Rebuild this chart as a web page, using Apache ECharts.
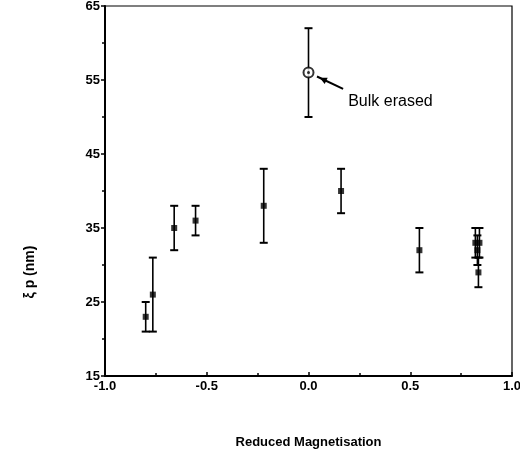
<!DOCTYPE html>
<html>
<head>
<meta charset="utf-8">
<script src="https://cdn.jsdelivr.net/npm/echarts@6/dist/echarts.min.js"></script>
<style>html,body{margin:0;padding:0;background:#fff}#c{width:520px;height:462px}</style>
</head>
<body>
<div id="c"></div>
<script>
// Data (reduced magnetisation, xi_p in nm, error low, error high)
var xVals  = [-0.80, -0.765, -0.66, -0.555, -0.22, 0.00, 0.16, 0.545, 0.82, 0.84, 0.83, 0.835];
var yVals  = [23, 26, 35, 36, 38, 56, 40, 32, 33, 33, 32, 29];
var yLow   = [21, 21, 32, 34, 33, 50, 37, 29, 31, 31, 30, 27];
var yHigh  = [25, 31, 38, 38, 43, 62, 43, 35, 35, 35, 34, 31];
var specialIndex = 5; // bulk erased point
var xTicks = [-1.0, -0.5, 0.0, 0.5, 1.0];
var yTicks = [15, 25, 35, 45, 55, 65];
var annotationText = 'Bulk erased';
var xTitle = 'Reduced Magnetisation';
var yTitle = 'ξ p (nm)';

var font = 'Liberation Sans, Arial, Helvetica, sans-serif';
var pts = [], errs = [], special = [];
for (var i = 0; i < xVals.length; i++) {
  errs.push([xVals[i], yLow[i], yHigh[i]]);
  if (i === specialIndex) special.push([xVals[i], yVals[i]]);
  else pts.push([xVals[i], yVals[i]]);
}

var chart = echarts.init(document.getElementById('c'), null, {renderer: 'canvas'});
var option = {
  animation: false,
  backgroundColor: '#fff',
  grid: {left: 105, right: 8, top: 6, bottom: 86, containLabel: false, outerBoundsMode: 'none',
    show: true, borderColor: '#000', borderWidth: 1.2},
  xAxis: {
    type: 'value', min: xTicks[0], max: xTicks[xTicks.length - 1], interval: 0.5,
    axisLine: {onZero: false, lineStyle: {color: '#000', width: 2}},
    axisTick: {inside: true, length: 4, lineStyle: {color: '#000', width: 1.5}},
    minorTick: {show: true, splitNumber: 2, length: 3, lineStyle: {color: '#000', width: 1.5}},
    splitLine: {show: false},
    axisLabel: {color: '#000', fontFamily: font, fontWeight: 'bold', fontSize: 13, margin: 4,
      formatter: function (v) { return v.toFixed(1); }},
    name: xTitle, nameLocation: 'middle', nameGap: 60,
    nameTextStyle: {color: '#000', fontFamily: font, fontWeight: 'bold', fontSize: 13}
  },
  yAxis: {
    type: 'value', min: yTicks[0], max: yTicks[yTicks.length - 1], interval: 10,
    axisLine: {onZero: false, lineStyle: {color: '#000', width: 2}},
    axisTick: {inside: false, length: 4, lineStyle: {color: '#000', width: 1.5}},
    minorTick: {show: true, splitNumber: 2, length: 3, lineStyle: {color: '#000', width: 1.5}},
    splitLine: {show: false},
    axisLabel: {color: '#000', fontFamily: font, fontWeight: 'bold', fontSize: 13, margin: 5}
  },
  series: [
    {
      type: 'custom',
      data: errs,
      encode: {x: 0, y: [1, 2]},
      renderItem: function (params, api) {
        var x = api.value(0);
        var lo = api.coord([x, api.value(1)]);
        var hi = api.coord([x, api.value(2)]);
        var w = 4;
        var st = {stroke: '#000', lineWidth: 1.6};
        return {type: 'group', children: [
          {type: 'line', shape: {x1: lo[0], y1: lo[1], x2: hi[0], y2: hi[1]}, style: st},
          {type: 'line', shape: {x1: lo[0] - w, y1: lo[1], x2: lo[0] + w, y2: lo[1]}, style: {stroke: '#000', lineWidth: 2}},
          {type: 'line', shape: {x1: hi[0] - w, y1: hi[1], x2: hi[0] + w, y2: hi[1]}, style: {stroke: '#000', lineWidth: 2}}
        ]};
      },
      z: 2
    },
    {
      type: 'scatter', data: pts, symbol: 'rect', symbolSize: 6,
      itemStyle: {color: '#000'}, z: 3
    },
    {
      type: 'scatter', data: special, symbol: 'circle', symbolSize: 10,
      itemStyle: {color: '#fff', borderColor: '#000', borderWidth: 2}, z: 4
    },
    {
      type: 'scatter', data: special, symbol: 'circle', symbolSize: 3,
      itemStyle: {color: '#000'}, z: 5
    }
  ]
};
chart.setOption(option);

// annotation arrow + text placed in data coordinates
var tip = chart.convertToPixel({gridIndex: 0}, [0.055, 55.3]);
var tail = chart.convertToPixel({gridIndex: 0}, [0.17, 53.8]);
var txt = chart.convertToPixel({gridIndex: 0}, [0.195, 52.1]);
var ang = Math.atan2(tip[1] - tail[1], tip[0] - tail[0]);
var ah = 8, aw = 0.45;
chart.setOption({
  graphic: [
    {type: 'text', x: 30, y: 272, rotation: Math.PI / 2,
      style: {text: yTitle, fill: '#000', font: 'bold 14px ' + font, textAlign: 'center', textVerticalAlign: 'middle'}},
    {type: 'line', shape: {x1: tail[0], y1: tail[1], x2: tip[0] + 3 * Math.cos(ang), y2: tip[1] + 3 * Math.sin(ang)},
      style: {stroke: '#000', lineWidth: 2}},
    {type: 'polygon', shape: {points: [
      tip,
      [tip[0] - ah * Math.cos(ang - aw), tip[1] - ah * Math.sin(ang - aw)],
      [tip[0] - ah * Math.cos(ang + aw), tip[1] - ah * Math.sin(ang + aw)]
    ]}, style: {fill: '#000'}},
    {type: 'text', x: txt[0], y: txt[1], style: {text: annotationText, fill: '#000',
      font: '16px ' + font, textVerticalAlign: 'middle'}}
  ]
});
</script>
</body>
</html>
